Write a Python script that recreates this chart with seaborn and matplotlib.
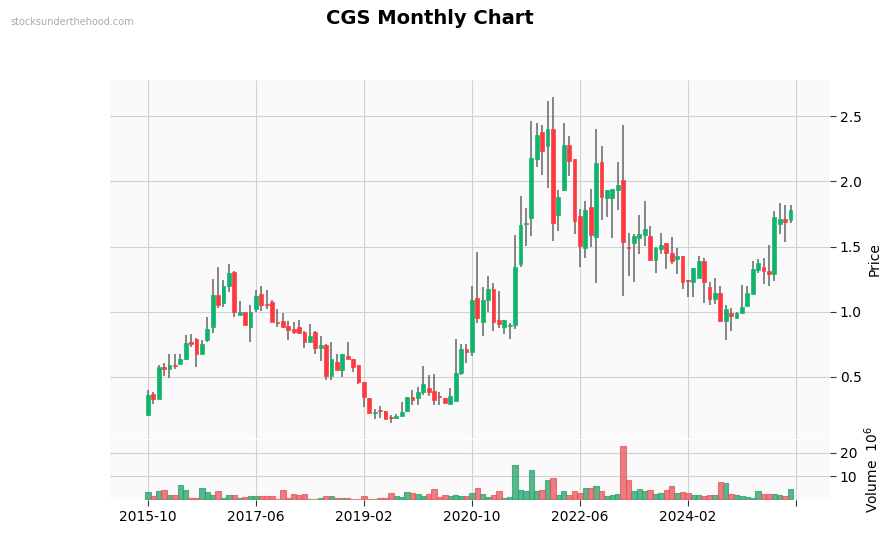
import numpy as np
import pandas as pd
import seaborn as sns
import matplotlib
matplotlib.use('Agg')
import matplotlib.pyplot as plt

# monthly candles, 2015-10 .. 2025-09
OPEN = [0.21, 0.37, 0.33, 0.58, 0.56, 0.59, 0.60, 0.635, 0.765, 0.79,
        0.68, 0.78, 0.88, 1.13, 1.07, 1.195, 1.305, 0.977, 1.00, 0.88,
        1.025, 1.14, 1.06, 1.075, 0.92, 0.93, 0.89, 0.87, 0.885, 0.845,
        0.77, 0.845, 0.725, 0.745, 0.51, 0.615, 0.55, 0.66, 0.64, 0.59,
        0.46, 0.335, 0.22, 0.242, 0.24, 0.187, 0.182, 0.198, 0.236, 0.35,
        0.34, 0.382, 0.418, 0.395, 0.348, 0.34, 0.29, 0.313, 0.527, 0.716,
        0.695, 1.105, 0.925, 1.087, 1.176, 0.94, 0.887, 0.889, 0.895, 1.37,
        1.672, 1.723, 2.175, 2.382, 2.274, 2.40, 1.746, 1.937, 2.28, 2.172,
        1.736, 1.493, 1.80, 1.57, 2.149, 1.876, 1.876, 1.937, 2.011, 1.492,
        1.531, 1.569, 1.592, 1.582, 1.401, 1.485, 1.529, 1.452, 1.408, 1.431,
        1.239, 1.225, 1.261, 1.391, 1.189, 1.097, 1.146, 0.933, 0.99, 0.954,
        0.987, 1.048, 1.133, 1.322, 1.345, 1.309, 1.293, 1.677, 1.713, 1.703]
HIGH = [0.40, 0.385, 0.59, 0.61, 0.68, 0.68, 0.68, 0.82, 0.83, 0.80,
        0.785, 0.96, 1.25, 1.34, 1.245, 1.37, 1.31, 1.08, 1.00, 1.05,
        1.17, 1.20, 1.17, 1.09, 1.02, 0.99, 0.93, 0.92, 0.94, 0.85,
        0.91, 0.85, 0.815, 0.75, 0.77, 0.675, 0.68, 0.77, 0.64, 0.59,
        0.465, 0.335, 0.255, 0.28, 0.24, 0.21, 0.213, 0.31, 0.35, 0.40,
        0.42, 0.586, 0.517, 0.523, 0.387, 0.34, 0.412, 0.788, 0.75, 0.75,
        1.195, 1.455, 1.19, 1.274, 1.22, 1.16, 0.94, 0.913, 1.588, 1.89,
        1.795, 2.46, 2.448, 2.43, 2.615, 2.65, 1.933, 2.446, 2.346, 2.17,
        1.787, 1.85, 1.943, 2.40, 2.27, 1.935, 1.945, 2.149, 2.433, 1.608,
        1.598, 1.741, 1.85, 1.657, 1.495, 1.603, 1.53, 1.575, 1.49, 1.431,
        1.24, 1.337, 1.427, 1.414, 1.228, 1.258, 1.197, 1.054, 1.028, 1.00,
        1.207, 1.197, 1.391, 1.406, 1.411, 1.513, 1.774, 1.838, 1.818, 1.82]
LOW = [0.20, 0.29, 0.33, 0.51, 0.49, 0.565, 0.60, 0.63, 0.73, 0.58,
       0.68, 0.765, 0.84, 1.03, 1.035, 1.155, 0.96, 0.975, 0.895, 0.77,
       1.00, 1.005, 1.02, 0.92, 0.88, 0.88, 0.78, 0.83, 0.83, 0.725,
       0.77, 0.68, 0.625, 0.48, 0.48, 0.55, 0.50, 0.635, 0.535, 0.445,
       0.27, 0.22, 0.18, 0.185, 0.18, 0.147, 0.18, 0.198, 0.235, 0.287,
       0.287, 0.364, 0.356, 0.285, 0.285, 0.297, 0.29, 0.313, 0.512, 0.607,
       0.66, 0.913, 0.815, 1.00, 0.855, 0.877, 0.826, 0.793, 0.87, 1.345,
       1.506, 1.58, 2.109, 2.048, 1.95, 1.54, 1.623, 1.93, 2.04, 1.60,
       1.343, 1.41, 1.496, 1.22, 1.703, 1.726, 1.565, 1.78, 1.123, 1.273,
       1.232, 1.442, 1.503, 1.40, 1.297, 1.444, 1.33, 1.366, 1.291, 1.176,
       1.113, 1.113, 1.26, 1.071, 1.054, 1.061, 0.921, 0.78, 0.852, 0.954,
       0.987, 1.048, 1.133, 1.30, 1.212, 1.197, 1.238, 1.598, 1.536, 1.682]
CLOSE = [0.36, 0.33, 0.58, 0.56, 0.59, 0.585, 0.64, 0.76, 0.755, 0.68,
         0.755, 0.87, 1.13, 1.05, 1.20, 1.30, 1.00, 1.00, 0.895, 1.00,
         1.12, 1.055, 1.055, 0.92, 0.915, 0.88, 0.86, 0.845, 0.84, 0.77,
         0.815, 0.725, 0.745, 0.51, 0.64, 0.55, 0.68, 0.635, 0.58, 0.465,
         0.345, 0.22, 0.235, 0.24, 0.18, 0.185, 0.203, 0.234, 0.35, 0.325,
         0.387, 0.448, 0.382, 0.32, 0.345, 0.297, 0.354, 0.533, 0.716, 0.693,
         1.09, 0.955, 1.09, 1.176, 0.918, 0.91, 0.939, 0.891, 1.343, 1.664,
         1.682, 2.18, 2.356, 2.236, 2.40, 1.684, 1.881, 2.28, 2.16, 1.70,
         1.508, 1.782, 1.592, 2.14, 1.883, 1.933, 1.943, 1.971, 1.539, 1.49,
         1.585, 1.598, 1.638, 1.40, 1.493, 1.513, 1.454, 1.393, 1.431, 1.232,
         1.237, 1.335, 1.391, 1.225, 1.10, 1.146, 0.933, 1.023, 0.964, 0.99,
         1.038, 1.146, 1.33, 1.376, 1.309, 1.286, 1.728, 1.713, 1.692, 1.779]
# volume in millions
VOLUME = [3.2, 1.4, 3.5, 4.1, 1.8, 1.8, 6.1, 3.9, 0.85, 0.85,
          4.8, 3.2, 1.8, 3.7, 0.6, 1.8, 1.8, 0.85, 1.0, 1.4,
          1.4, 1.4, 1.4, 1.4, 0.4, 3.9, 0.7, 2.3, 1.8, 2.3,
          0.4, 0.4, 0.85, 1.4, 1.4, 0.55, 0.55, 0.55, 0.2, 0.2,
          1.4, 0.4, 0.4, 0.8, 0.8, 2.7, 1.4, 1.1, 3.2, 2.7,
          2.3, 1.4, 2.4, 4.4, 1.0, 1.8, 1.4, 2.0, 1.4, 1.4,
          2.8, 5.1, 2.3, 1.0, 2.0, 3.8, 0.55, 1.1, 14.6, 4.1,
          3.7, 12.5, 3.7, 3.9, 8.2, 9.4, 1.8, 3.7, 1.8, 3.7,
          2.8, 4.9, 4.9, 5.6, 3.7, 1.4, 1.8, 2.3, 23.0, 8.2,
          3.7, 4.4, 3.5, 3.9, 2.3, 2.7, 3.9, 5.6, 2.8, 3.2,
          2.8, 1.8, 1.8, 1.4, 1.8, 1.8, 7.3, 6.9, 2.3, 1.8,
          1.4, 1.0, 0.55, 3.5, 2.3, 2.3, 2.3, 1.8, 1.4, 4.5]

START_MONTH = '2015-10-01'
UP_COLOR = '#11b46c'
DOWN_COLOR = '#fe3a40'
WICK_COLOR = '#666666'

if __name__ == '__main__':
    sns.set_style('whitegrid', {
        'axes.facecolor': '#fafafa',
        'grid.color': '#d2d2d2',
        'axes.edgecolor': '#fafafa',
        'text.color': 'black',
        'xtick.color': 'black',
        'ytick.color': 'black',
        'axes.labelcolor': 'black',
    })
    plt.rcParams['font.family'] = ['DejaVu Sans']

    dates = pd.date_range(START_MONTH, periods=len(OPEN), freq='MS')
    df = pd.DataFrame({
        'Open': OPEN, 'High': HIGH, 'Low': LOW, 'Close': CLOSE,
        'Volume': VOLUME,
    })
    df['idx'] = np.arange(len(df))
    df['Dir'] = np.where(df['Close'] >= df['Open'], 'up', 'down')

    fig = plt.figure(figsize=(8.91, 5.33), dpi=100)
    ax = fig.add_axes([0.1235, 0.177, 0.808, 0.673])
    axv = fig.add_axes([0.1235, 0.062, 0.808, 0.113], sharex=ax)

    # candles
    colors = [UP_COLOR if d == 'up' else DOWN_COLOR for d in df['Dir']]
    ax.vlines(df['idx'], df['Low'], df['High'], color=WICK_COLOR, linewidth=1.1, zorder=2)
    body_lo = np.minimum(df['Open'], df['Close'])
    body_h = np.maximum(np.abs(df['Close'] - df['Open']), 0.006)
    ax.bar(df['idx'], body_h, bottom=body_lo, width=0.72, color=colors,
           edgecolor=colors, linewidth=0.5, zorder=3)

    # volume
    sns.barplot(data=df, x='idx', y='Volume', hue='Dir', ax=axv,
                palette={'up': UP_COLOR, 'down': DOWN_COLOR},
                native_scale=True, dodge=False, width=1.0, alpha=0.75,
                edgecolor=None, linewidth=0.8, legend=False, zorder=3)
    for patch in axv.patches:
        fc = patch.get_facecolor()
        patch.set_edgecolor((fc[0], fc[1], fc[2], 1.0))

    ticks = list(range(0, 121, 20))
    labels = [dates[t].strftime('%Y-%m') if t < len(dates) else '' for t in ticks]

    for a in (ax, axv):
        a.set_xlim(-7.0, 126.3)
        a.set_xticks(ticks)
        a.yaxis.tick_right()
        a.yaxis.set_label_position('right')
        a.tick_params(axis='y', right=True, length=4, color='#333333', labelsize=10, pad=3)
        for s in a.spines.values():
            s.set_visible(False)
        a.set_xlabel('')

    ax.set_ylim(0.027, 2.778)
    ax.set_yticks([0.5, 1.0, 1.5, 2.0, 2.5])
    ax.set_ylabel('Price', fontsize=10)
    ax.tick_params(axis='x', bottom=False, labelbottom=False)

    axv.set_ylim(-0.2, 25.6)
    axv.set_yticks([10, 20])
    axv.set_xticklabels(labels, fontsize=10)
    axv.tick_params(axis='x', bottom=True, length=4, color='#333333', labelsize=10)
    axv.set_ylabel('Volume  $10^{6}$', fontsize=10)

    fig.text(0.483, 0.965, 'CGS Monthly Chart', ha='center', va='center',
             fontsize=14, fontweight='bold', color='black')
    fig.text(0.012, 0.958, 'stocksunderthehood.com', ha='left', va='center',
             fontsize=7, color='#aaaaaa')

    plt.savefig('out.png', dpi=100)
